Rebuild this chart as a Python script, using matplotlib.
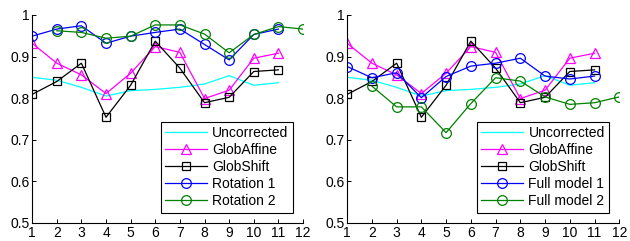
import matplotlib.pyplot as plt

plt.rcParams["font.family"] = ["Liberation Sans", "DejaVu Sans"]

x = list(range(1, 12))
x2 = list(range(2, 13))

uncorrected = [0.850, 0.843, 0.826, 0.805, 0.818, 0.821, 0.826, 0.834, 0.854, 0.831, 0.837]
glob_affine = [0.932, 0.884, 0.856, 0.811, 0.860, 0.924, 0.910, 0.799, 0.819, 0.896, 0.908]
glob_shift = [0.809, 0.840, 0.884, 0.754, 0.831, 0.937, 0.872, 0.789, 0.802, 0.864, 0.868]
rotation1 = [0.949, 0.966, 0.974, 0.932, 0.949, 0.958, 0.966, 0.929, 0.892, 0.953, 0.966]
rotation2 = [0.962, 0.958, 0.944, 0.949, 0.976, 0.976, 0.954, 0.909, 0.953, 0.972, 0.966]
full1 = [0.876, 0.849, 0.861, 0.801, 0.852, 0.877, 0.884, 0.896, 0.853, 0.846, 0.853]
full2 = [0.829, 0.779, 0.779, 0.717, 0.787, 0.849, 0.841, 0.803, 0.785, 0.789, 0.803]

xticks = list(range(1, 13))
yticks = [0.5, 0.6, 0.7, 0.8, 0.9, 1.0]
yticklabels = ["0.5", "0.6", "0.7", "0.8", "0.9", "1"]

fig = plt.figure(figsize=(6.3, 2.41), dpi=100)
ax1 = fig.add_axes([0.051, 0.075, 0.430, 0.863])
ax2 = fig.add_axes([0.551, 0.075, 0.432, 0.863])

mk = dict(markersize=7, markerfacecolor="none", linewidth=0.9, markeredgewidth=0.9)


def draw(ax, m1, m2, lab1, lab2):
    ax.plot(x, uncorrected, color="cyan", linewidth=0.9, label="Uncorrected")
    ax.plot(x, glob_affine, color="magenta", marker="^", label="GlobAffine", **mk)
    ax.plot(x, glob_shift, color="black", marker="s", label="GlobShift",
            markersize=6, markerfacecolor="none", linewidth=0.9, markeredgewidth=0.9)
    ax.plot(x, m1, color="blue", marker="o", label=lab1, **mk)
    ax.plot(x2, m2, color="green", marker="o", label=lab2, **mk)
    ax.set_xlim(1, 12)
    ax.set_ylim(0.5, 1.0)
    ax.set_xticks(xticks)
    ax.set_yticks(yticks)
    ax.set_yticklabels(yticklabels)
    ax.tick_params(direction="in", labelsize=10, length=3, width=0.7, pad=2)
    ax.spines["top"].set_visible(False)
    ax.spines["right"].set_visible(False)
    for s in ["left", "bottom"]:
        ax.spines[s].set_linewidth(0.8)
    leg = ax.legend(loc="lower right", fontsize=10, handlelength=3.0,
                    numpoints=1, fancybox=False, framealpha=1, borderpad=0.3,
                    labelspacing=0.22, handletextpad=0.4, borderaxespad=0.75)
    leg.get_frame().set_edgecolor("black")
    leg.get_frame().set_linewidth(0.8)


draw(ax1, rotation1, rotation2, "Rotation 1", "Rotation 2")
draw(ax2, full1, full2, "Full model 1", "Full model 2")

plt.savefig("out.png", dpi=100)
